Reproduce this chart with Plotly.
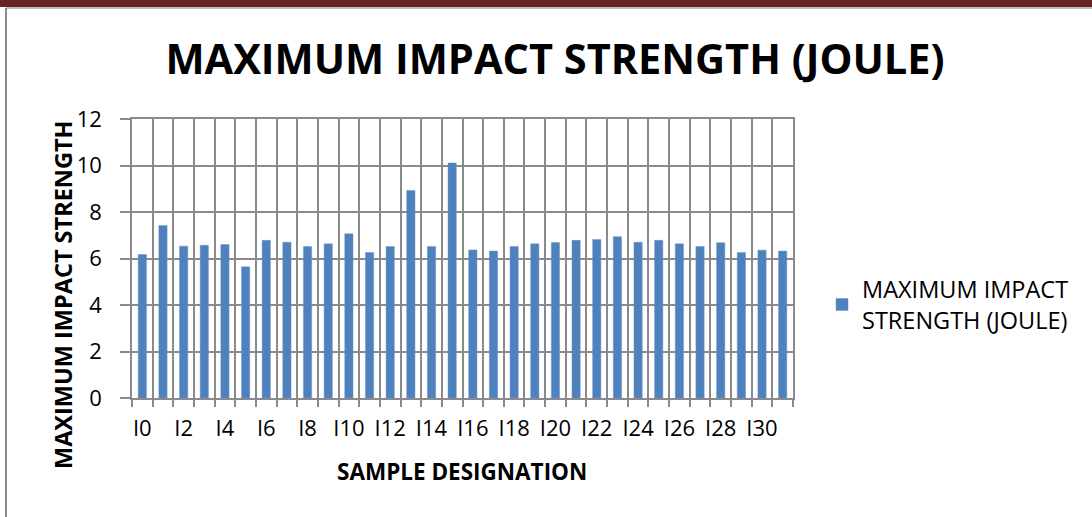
import plotly.graph_objects as go

# Sample designations and measured impact strength (J)
samples = [f"I{i}" for i in range(32)]
impact_strength = [
    6.17, 7.42, 6.53, 6.57, 6.60, 5.64, 6.78, 6.70,
    6.52, 6.63, 7.06, 6.26, 6.52, 8.93, 6.52, 10.11,
    6.37, 6.32, 6.52, 6.63, 6.69, 6.78, 6.82, 6.94,
    6.70, 6.78, 6.63, 6.52, 6.68, 6.26, 6.36, 6.32,
]
tick_labels = [s if i % 2 == 0 else "" for i, s in enumerate(samples)]
series_name = "MAXIMUM IMPACT<br>STRENGTH (JOULE)"

W, H = 1092, 517
ML, MR, MT, MB = 132, 299, 119, 119
PW, PH = W - ML - MR, H - MT - MB


def px_x(px):
    return (px - ML) / PW


def px_y(py):
    return (H - MB - py) / PH


FONT = "Open Sans"
GRID = "#8a8a8a"

fig = go.Figure(
    go.Bar(
        x=samples,
        y=impact_strength,
        name=series_name,
        marker=dict(color="#4f81bd", line=dict(color="#6d97c9", width=0.5)),
        showlegend=True,
    )
)

fig.update_layout(
    width=W,
    height=H,
    margin=dict(l=ML, r=MR, t=MT, b=MB),
    paper_bgcolor="white",
    plot_bgcolor="white",
    bargap=0.6,
    font=dict(family=FONT, color="#000000", size=22),
    title=dict(
        text="<b>MAXIMUM IMPACT STRENGTH (JOULE)</b>",
        x=px_x(555), xref="paper", xanchor="center",
        y=1 - 59 / H, yref="container", yanchor="middle",
        font=dict(family=FONT, size=41.5, color="#000000"),
    ),
    legend=dict(
        x=px_x(822), y=px_y(305), xanchor="left", yanchor="middle",
        font=dict(family=FONT, size=23.5, color="#000000"),
        bgcolor="rgba(0,0,0,0)",
    ),
    xaxis=dict(
        type="category",
        tickmode="array",
        tickvals=samples,
        ticktext=tick_labels,
        tickson="boundaries",
        tickangle=0,
        ticks="outside",
        ticklen=7,
        tickcolor=GRID,
        tickwidth=1.5,
        showgrid=True,
        gridcolor=GRID,
        gridwidth=1.5,
        showline=True,
        linecolor=GRID,
        linewidth=1.5,
        mirror=True,
        tickfont=dict(family=FONT, size=22, color="#000000"),
        ticklabelstandoff=10,
    ),
    yaxis=dict(
        range=[0, 12],
        dtick=2,
        ticks="outside",
        ticklen=10,
        tickcolor=GRID,
        tickwidth=1.5,
        showgrid=True,
        gridcolor=GRID,
        gridwidth=1.5,
        showline=True,
        linecolor=GRID,
        linewidth=1.5,
        mirror=True,
        zeroline=False,
        tickfont=dict(family=FONT, size=22, color="#000000"),
        ticklabelstandoff=14,
    ),
    annotations=[
        dict(
            text="<b>MAXIMUM IMPACT STRENGTH</b>",
            x=px_x(63), y=px_y(295), xref="paper", yref="paper",
            textangle=-90, showarrow=False,
            xanchor="center", yanchor="middle",
            font=dict(family=FONT, size=23.5, color="#000000"),
        ),
        dict(
            text="<b>SAMPLE DESIGNATION</b>",
            x=px_x(462), y=px_y(471), xref="paper", yref="paper",
            showarrow=False, xanchor="center", yanchor="middle",
            font=dict(family=FONT, size=22.5, color="#000000"),
        ),
    ],
    shapes=[
        # page band along the top edge
        dict(type="rect", xref="paper", yref="paper",
             x0=px_x(0), x1=px_x(W), y0=px_y(7), y1=px_y(0),
             fillcolor="#652326", line=dict(width=0), layer="above"),
        # chart frame: top and left edges
        dict(type="line", xref="paper", yref="paper",
             x0=px_x(6), x1=px_x(W), y0=px_y(8), y1=px_y(8),
             line=dict(color="#a6a6a6", width=1.5)),
        dict(type="line", xref="paper", yref="paper",
             x0=px_x(6), x1=px_x(6), y0=px_y(8), y1=px_y(H),
             line=dict(color="#8c8c8c", width=2)),
    ],
)

fig.write_html("out.html")
